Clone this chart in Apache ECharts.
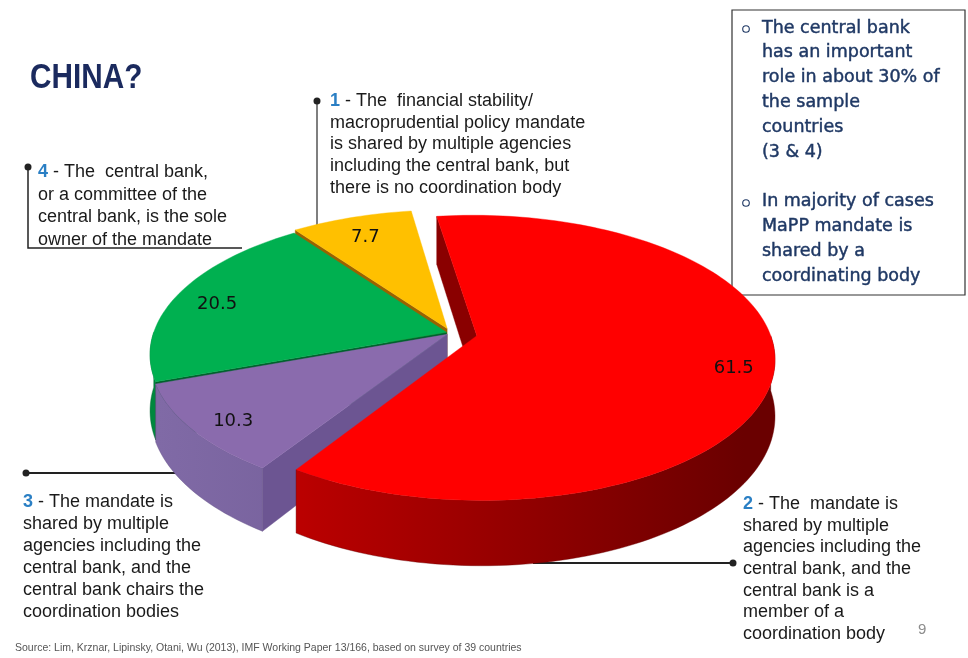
<!DOCTYPE html>
<html>
<head>
<meta charset="utf-8">
<script src="https://cdn.jsdelivr.net/npm/echarts@6/dist/echarts.min.js"></script>
<style>
  html, body { margin: 0; padding: 0; background: #ffffff; }
  #chart { width: 968px; height: 658px; }
</style>
</head>
<body>
<div id="chart"></div>
<script>
// Macroprudential mandate arrangements (share of surveyed countries, %)
const categories = ['1', '2', '3', '4'];
const shares = [7.7, 61.5, 10.3, 20.5];

// Slice styling, in the same order as the categories
const topColors = ['#FFC000', '#FF0000', '#8A6BAD', '#00B050'];
const sideStops = [
  ['#B98A00', '#8C6400'],
  ['#D40000', '#6A0000'],
  ['#806AA6', '#5E4A82'],
  ['#00873E', '#005E2A']
];
const radialColors = ['#9A6200', '#8A0000', '#6C5592', '#00602C'];
const explodeBy = [0.035, 0.09, 0.016, 0.016];

// Oblique projection of the disc: tilt squashes the ellipse, persp enlarges the front
const PIE = { cx: 451, cy: 333, r: 293, tilt: 0.472, persp: 0.155, depth: 55, startDeg: 126 };
const DEG = Math.PI / 180;
const total = shares.reduce((a, b) => a + b, 0);
const cumBefore = shares.map((_, i) => shares.slice(0, i).reduce((a, b) => a + b, 0));

function project(u, v, z) {
  const s = 1 / (1 + PIE.persp * v);
  return [PIE.cx + PIE.r * u * s, PIE.cy - PIE.r * PIE.tilt * v * s + PIE.depth * z * s];
}

function renderSlice(params, api) {
  const i = params.dataIndex;
  const value = api.value(0);
  const a0 = PIE.startDeg - cumBefore[i] / total * 360;
  const a1 = a0 - value / total * 360;
  const mid = (a0 + a1) / 2 * DEG;
  const ou = explodeBy[i] * Math.cos(mid);
  const ov = explodeBy[i] * Math.sin(mid);
  const rim = a => [ou + Math.cos(a * DEG), ov + Math.sin(a * DEG)];

  const n = Math.max(6, Math.ceil((a0 - a1) / 1.5));
  const angles = [];
  for (let k = 0; k <= n; k++) angles.push(a0 - (a0 - a1) * k / n);
  for (let m = Math.floor(a0 / 180); m * 180 > a1; m--) {
    const c = m * 180;
    if (c < a0 && c > a1) angles.push(c);
  }
  angles.sort((a, b) => b - a);

  const children = [];
  const sideFill = {
    type: 'linear', x: PIE.cx - PIE.r, y: 0, x2: PIE.cx + PIE.r, y2: 0, global: true,
    colorStops: [{ offset: 0, color: sideStops[i][0] }, { offset: 1, color: sideStops[i][1] }]
  };

  // curved outer wall, only where it faces the viewer
  let run = [];
  const flush = () => {
    if (run.length > 1) {
      const top = run.map(a => project(...rim(a), 0));
      const bottom = run.slice().reverse().map(a => project(...rim(a), 1));
      const avgV = run.reduce((s, a) => s + rim(a)[1], 0) / run.length;
      children.push({
        type: 'polygon', shape: { points: top.concat(bottom) },
        style: { fill: sideFill, stroke: sideStops[i][1], lineWidth: 0.4 },
        z2: Math.round(500 - avgV * 100)
      });
    }
    run = [];
  };
  for (const a of angles) {
    if (Math.sin(a * DEG) <= 1e-9) run.push(a); else flush();
  }
  flush();

  // flat radial walls on the cut edges
  const radial = (a) => {
    const p = rim(a);
    const pts = [project(ou, ov, 0), project(p[0], p[1], 0), project(p[0], p[1], 1), project(ou, ov, 1)];
    children.push({
      type: 'polygon', shape: { points: pts },
      style: { fill: radialColors[i], stroke: radialColors[i], lineWidth: 0.4 },
      z2: Math.round(500 - (ov + p[1]) / 2 * 100)
    });
  };
  if (Math.cos(a0 * DEG) < 0) radial(a0);
  if (Math.cos(a1 * DEG) > 0) radial(a1);

  // top face
  const topPts = [project(ou, ov, 0)].concat(angles.map(a => project(...rim(a), 0)));
  children.push({
    type: 'polygon', shape: { points: topPts },
    style: { fill: topColors[i], stroke: topColors[i], lineWidth: 0.4 },
    z2: 1000
  });

  // value label on the top face
  const f = 0.86;
  const lp = project(ou + f * Math.cos(mid), ov + f * Math.sin(mid), 0);
  children.push({
    type: 'text', x: lp[0] + 2, y: lp[1] + 6, z2: 2000,
    style: {
      text: String(value), fill: '#111111', font: '18px "DejaVu Sans"',
      align: 'center', verticalAlign: 'middle'
    }
  });

  return { type: 'group', children };
}

const LABEL_FONT = '18px "Liberation Sans"';
const NUM_STYLE = { fill: '#2A7FC4', font: 'bold 18px "Liberation Sans"' };
const INK = '#1A1A1A';
const LINE = '#222222';

function note(x, y, text, lineHeight) {
  return {
    type: 'text', x, y, z: 10,
    style: {
      text, font: LABEL_FONT, fill: INK, lineHeight, verticalAlign: 'top',
      rich: {
        n: Object.assign({}, NUM_STYLE, { lineHeight })
      }
    }
  };
}

const graphics = [
  {
    type: 'text', x: 30, y: 78, scaleX: 0.85,
    style: { text: 'CHINA?', font: 'bold 35px "Liberation Sans"', fill: '#1B2A5E', verticalAlign: 'middle' }
  },
  // leader lines and dots
  { type: 'polyline', shape: { points: [[317, 101], [317, 232]] }, style: { stroke: '#555', lineWidth: 1.5 } },
  { type: 'circle', shape: { cx: 317, cy: 101, r: 3.5 }, style: { fill: LINE } },
  { type: 'polyline', shape: { points: [[28, 167], [28, 248], [242, 248]] }, style: { stroke: LINE, lineWidth: 1.5, fill: null } },
  { type: 'circle', shape: { cx: 28, cy: 167, r: 3.5 }, style: { fill: LINE } },
  { type: 'polyline', shape: { points: [[26, 473], [178, 473]] }, style: { stroke: LINE, lineWidth: 1.8 } },
  { type: 'circle', shape: { cx: 26, cy: 473, r: 3.5 }, style: { fill: LINE } },
  { type: 'polyline', shape: { points: [[533, 563], [733, 563]] }, style: { stroke: LINE, lineWidth: 1.8 } },
  { type: 'circle', shape: { cx: 733, cy: 563, r: 3.5 }, style: { fill: LINE } },

  note(330, 90, '{n|1} - The  financial stability/\nmacroprudential policy mandate\nis shared by multiple agencies\nincluding the central bank, but\nthere is no coordination body', 21.8),
  note(38, 161, '{n|4} - The  central bank,\nor a committee of the\ncentral bank, is the sole\nowner of the mandate', 22.5),
  note(23, 491, '{n|3} - The mandate is\nshared by multiple\nagencies including the\ncentral bank, and the\ncentral bank chairs the\ncoordination bodies', 22),
  note(743, 493, '{n|2} - The  mandate is\nshared by multiple\nagencies including the\ncentral bank, and the\ncentral bank is a\nmember of a\ncoordination body', 21.7),

  // side box with key findings
  { type: 'rect', shape: { x: 732, y: 10, width: 233, height: 285 }, style: { fill: null, stroke: '#333333', lineWidth: 1.2 } },
  { type: 'circle', shape: { cx: 746, cy: 29, r: 3.3 }, style: { fill: null, stroke: '#1F3864', lineWidth: 1.1 } },
  { type: 'circle', shape: { cx: 746, cy: 203, r: 3.3 }, style: { fill: null, stroke: '#1F3864', lineWidth: 1.1 } },
  {
    type: 'text', x: 762, y: 15.6,
    style: {
      text: 'The central bank\nhas an important\nrole in about 30% of\nthe sample\ncountries\n(3 & 4)\n\nIn majority of cases\nMaPP mandate is\nshared by a\ncoordinating body',
      font: '17.5px "DejaVu Sans"', fill: '#1F3864', stroke: '#1F3864', lineWidth: 0.45,
      lineHeight: 24.8, verticalAlign: 'top'
    }
  },

  { type: 'text', x: 918, y: 630, style: { text: '9', font: '15px "Liberation Sans"', fill: '#8C8C8C', verticalAlign: 'middle' } },
  {
    type: 'text', x: 15, y: 648,
    style: {
      text: 'Source: Lim, Krznar, Lipinsky, Otani, Wu (2013), IMF Working Paper 13/166, based on survey of 39 countries',
      font: '10.5px "Liberation Sans"', fill: '#555555', verticalAlign: 'middle'
    }
  }
];

const chart = echarts.init(document.getElementById('chart'));
chart.setOption({
  animation: false,
  backgroundColor: '#ffffff',
  graphic: { elements: graphics },
  series: [{
    type: 'custom',
    coordinateSystem: 'none',
    silent: true,
    renderItem: renderSlice,
    data: shares.map((v, i) => ({ name: categories[i], value: v }))
  }]
});
</script>
</body>
</html>
